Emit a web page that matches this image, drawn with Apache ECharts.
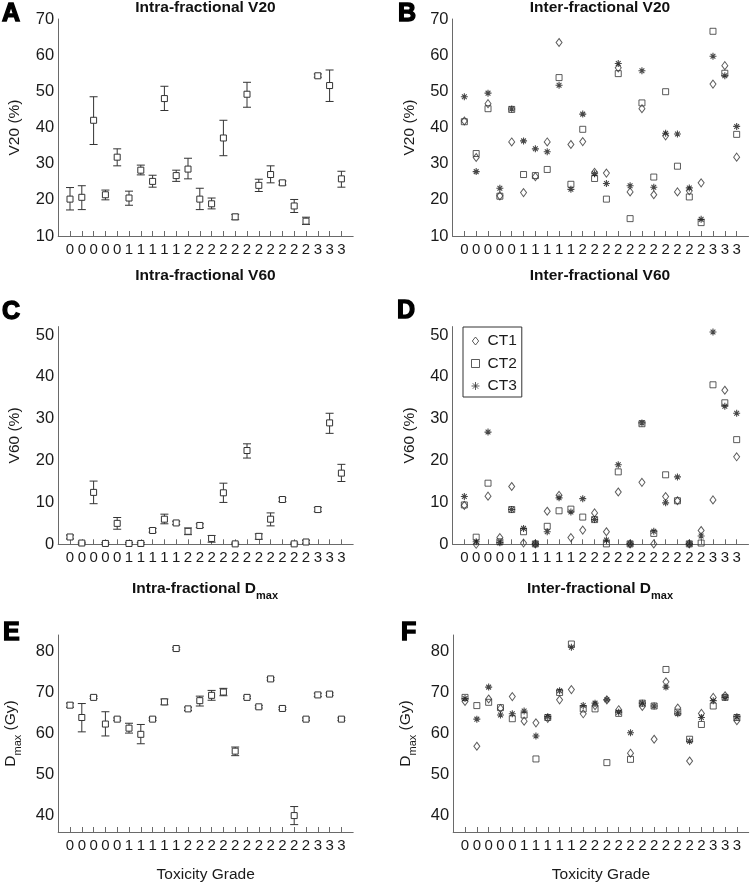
<!DOCTYPE html>
<html>
<head>
<meta charset="utf-8">
<script src="https://cdn.jsdelivr.net/npm/echarts@6/dist/echarts.min.js"></script>
<style>
html,body{margin:0;padding:0;background:#fff;}
#chart{width:750px;height:884px;}
</style>
</head>
<body>
<div id="chart"></div>
<script>
// ---------- data ----------
const grades = ['0','0','0','0','0','1','1','1','1','1','2','2','2','2','2','2','2','2','2','2','2','3','3','3'];

// A: Intra-fractional V20 (mean, upper, lower)
const intraV20Mean = [20.2,20.7,42.0,21.4,31.8,20.5,28.2,25.1,48.0,26.7,28.5,20.2,18.9,37.1,15.3,49.2,24.0,27.0,24.7,18.3,14.1,54.3,51.6,25.8];
const intraV20High = [23.4,23.9,48.5,22.7,34.1,22.4,29.6,26.8,51.4,28.2,31.5,23.2,20.5,42.0,16.0,52.5,25.7,29.4,25.2,20.1,15.2,54.8,55.9,27.9];
const intraV20Low  = [17.2,17.3,35.3,20.0,29.4,18.5,26.9,23.5,44.7,25.1,25.8,17.3,17.5,32.2,14.5,45.6,22.3,24.7,24.1,16.5,13.2,53.9,47.2,23.5];

// C: Intra-fractional V60
const intraV60Mean = [1.75,0.3,12.4,0.2,5.0,0.2,0.2,3.3,6.0,5.1,3.1,4.5,1.4,12.3,0.1,22.4,1.9,6.0,10.7,0.1,0.55,8.3,29.0,17.0];
const intraV60High = [2.2,0.5,15.1,0.4,6.4,0.4,0.4,3.8,7.2,5.5,3.9,4.9,2.1,14.6,0.3,24.0,2.5,7.5,11.1,0.3,0.95,8.8,31.3,19.1];
const intraV60Low  = [1.3,0.1,9.7,0.0,3.6,0.0,0.0,2.9,4.9,4.7,2.3,4.0,0.5,10.0,0.0,20.6,1.2,4.4,10.2,0.0,0.25,7.8,26.5,15.0];

// E: Intra-fractional Dmax
const intraDmaxMean = [66.9,63.9,68.8,62.3,63.5,61.3,59.8,63.5,67.7,80.7,66.0,68.0,69.3,70.1,55.7,68.8,66.5,73.3,66.1,40.0,63.5,69.4,69.6,63.5];
const intraDmaxHigh = [67.4,67.3,69.1,65.3,63.8,62.5,62.2,63.8,68.4,81.0,66.4,69.1,70.5,71.0,56.7,69.1,66.8,73.6,66.4,42.2,63.8,69.8,69.9,63.8];
const intraDmaxLow  = [66.4,60.4,68.5,59.4,63.2,60.1,57.5,63.2,67.0,80.4,65.6,66.7,68.1,69.2,54.6,68.5,66.2,73.0,65.8,37.8,63.2,69.0,69.3,63.2];

// B: Inter-fractional V20
const interV20CT1 = [41.8,31.7,46.6,21.1,36.0,22.0,26.4,36.0,63.5,35.3,36.1,27.6,27.4,56.5,22.2,45.2,21.4,37.7,22.2,22.5,24.7,52.0,57.1,31.8];
const interV20CT2 = [41.6,32.8,45.2,21.0,45.0,27.0,26.7,28.4,53.8,24.3,39.5,25.9,20.2,54.9,14.8,46.8,26.3,49.9,29.3,20.8,13.7,66.6,55.0,38.1];
const interV20CT3 = [48.5,27.8,49.5,23.2,45.1,36.3,34.1,33.3,51.7,22.9,43.7,27.2,24.5,57.7,23.9,55.7,23.5,38.4,38.2,23.3,14.6,59.7,54.3,40.3];

// D: Inter-fractional V60
const interV60CT1 = [9.3,0.0,11.5,1.6,13.8,0.3,0.1,7.9,11.7,1.6,3.4,7.5,3.0,12.5,0.1,14.8,0.1,11.4,10.4,0.1,3.3,10.6,36.8,20.9];
const interV60CT2 = [9.4,1.7,14.6,0.6,8.3,3.0,0.1,4.3,8.0,8.4,6.5,5.9,0.1,17.3,0.1,28.8,2.6,16.6,10.4,0.1,0.3,38.1,33.8,25.0];
const interV60CT3 = [11.4,0.6,26.8,0.4,8.3,3.8,0.1,3.0,11.1,7.7,10.9,5.9,1.0,19.0,0.1,29.0,3.1,9.9,16.1,0.1,2.0,50.7,33.0,31.3];

// F: Inter-fractional Dmax
const interDmaxCT1 = [67.8,56.9,68.4,66.1,69.0,63.0,62.6,63.7,68.2,70.7,64.8,66.8,68.2,65.8,55.2,66.6,58.6,72.6,66.2,53.3,64.9,68.8,69.2,63.1];
const interDmaxCT2 = [68.8,66.8,67.6,66.3,63.6,64.5,53.8,63.9,70.0,81.8,66.0,66.0,52.9,64.9,53.7,67.4,66.7,75.6,65.2,58.6,62.2,66.7,68.8,63.9];
const interDmaxCT3 = [68.5,63.5,71.3,64.5,64.8,65.5,59.4,64.1,70.4,81.0,66.8,67.4,68.2,65.2,60.2,67.4,66.7,71.3,64.8,58.1,63.9,68.0,68.8,64.1];

const v20Ticks = [10,20,30,40,50,60,70];
const v60Ticks = [0,10,20,30,40,50];
const dmaxTicks = [40,50,60,70,80];
const seriesNames = ['CT1','CT2','CT3'];

// ---------- styles ----------
const FONT = 'Liberation Sans, Arial, Helvetica, sans-serif';
const TXT = '#1a1a1a';
const AXC = '#6a6a6a';
const MK = '#333333';
const STAR = 'path://M0,5L10,5M5,0L5,10M1.6,1.6L8.4,8.4M8.4,1.6L1.6,8.4';
const DIAM_ICON = 'path://M4,0L8,5L4,10L0,5Z';
const SQ_ICON = 'path://M0,0L8,0L8,8L0,8Z';

const catPos = grades.map((g, i) => i + 1);

const grids = [
  {left: 58.2, top: 19, width: 295, height: 217},
  {left: 452.5, top: 19, width: 296, height: 217},
  {left: 58.2, top: 326.6, width: 295, height: 217.7},
  {left: 452.5, top: 326.6, width: 296, height: 217.7},
  {left: 58.2, top: 635, width: 295, height: 198.5},
  {left: 453.2, top: 635, width: 295.5, height: 198.5}
];

function xAxis(idx, withName) {
  return {
    gridIndex: idx, type: 'value', min: 0, max: 25,
    name: withName ? 'Toxicity Grade' : '',
    nameLocation: 'middle', nameGap: 35,
    nameTextStyle: {fontFamily: FONT, fontSize: 15.5, color: TXT},
    axisLine: {show: true, onZero: false, lineStyle: {color: AXC, width: 1}},
    axisTick: {show: true, inside: true, length: 5, customValues: catPos, lineStyle: {color: AXC}},
    axisLabel: {show: true, customValues: catPos, margin: 6, fontFamily: FONT, fontSize: 15, color: TXT,
      formatter: v => grades[Math.round(v) - 1]},
    splitLine: {show: false}
  };
}
function yAxis(idx, min, max, ticks, name, rich) {
  return {
    gridIndex: idx, type: 'value', min: min, max: max,
    name: name, nameLocation: 'middle', nameGap: 35, nameRotate: 90,
    nameTextStyle: {fontFamily: FONT, fontSize: 15.5, color: TXT, rich: rich},
    axisLine: {show: true, onZero: false, lineStyle: {color: AXC, width: 1}},
    axisTick: {show: false},
    axisLabel: {show: true, customValues: ticks, margin: 4, fontFamily: FONT, fontSize: 16.5, color: TXT},
    splitLine: {show: false}
  };
}

const dRich = {
  a: {fontFamily: FONT, fontSize: 15.5, color: TXT},
  s: {fontFamily: FONT, fontSize: 11, color: TXT, padding: [14, 0, 0, 0]}
};

function errSeries(idx, low, high) {
  return {
    type: 'custom', xAxisIndex: idx, yAxisIndex: idx, z: 2,
    encode: {x: 0, y: [1, 2]},
    data: catPos.map((x, i) => [x, low[i], high[i]]),
    renderItem: function (params, api) {
      const x = api.value(0);
      const pLo = api.coord([x, api.value(1)]);
      const pHi = api.coord([x, api.value(2)]);
      const hw = 4;
      const st = {stroke: '#333', lineWidth: 1};
      return {type: 'group', children: [
        {type: 'line', shape: {x1: pHi[0], y1: pHi[1], x2: pLo[0], y2: pLo[1]}, style: st},
        {type: 'line', shape: {x1: pHi[0] - hw, y1: pHi[1], x2: pHi[0] + hw, y2: pHi[1]}, style: st},
        {type: 'line', shape: {x1: pLo[0] - hw, y1: pLo[1], x2: pLo[0] + hw, y2: pLo[1]}, style: st}
      ]};
    }
  };
}
function meanSeries(idx, mean) {
  return {
    type: 'scatter', xAxisIndex: idx, yAxisIndex: idx, z: 3,
    symbol: 'rect', symbolSize: 6,
    itemStyle: {color: '#ffffff', borderColor: MK, borderWidth: 1, opacity: 1},
    data: catPos.map((x, i) => [x, mean[i]])
  };
}
function ctSeries(idx, ct1, ct2, ct3) {
  const base = {type: 'scatter', xAxisIndex: idx, yAxisIndex: idx};
  return [
    Object.assign({}, base, {name: seriesNames[0], symbol: 'diamond', symbolSize: [6, 8], z: 3,
      itemStyle: {color: 'rgba(0,0,0,0)', borderColor: MK, borderWidth: 1},
      data: catPos.map((x, i) => [x, ct1[i]])}),
    Object.assign({}, base, {name: seriesNames[1], symbol: 'rect', symbolSize: 6, z: 4,
      itemStyle: {color: 'rgba(0,0,0,0)', borderColor: MK, borderWidth: 1},
      data: catPos.map((x, i) => [x, ct2[i]])}),
    Object.assign({}, base, {name: seriesNames[2], symbol: STAR, symbolSize: 7, z: 5,
      itemStyle: {color: 'rgba(0,0,0,0)', borderColor: '#1a1a1a', borderWidth: 1.1},
      data: catPos.map((x, i) => [x, ct3[i]])})
  ];
}

function titleText(x, y, text) {
  return {type: 'text', x: x, y: y, silent: true,
    style: {text: text, fontFamily: FONT, fontSize: 15.5, fontWeight: 'bold', fill: '#111',
      align: 'center', verticalAlign: 'middle'}};
}
function subTitle(x, y, main) {
  return {type: 'text', x: x, y: y, silent: true,
    style: {text: '{m|' + main + '}{s|max}', align: 'center', verticalAlign: 'middle', fill: '#111',
      rich: {
        m: {fontFamily: FONT, fontSize: 15.5, fontWeight: 'bold', fill: '#111'},
        s: {fontFamily: FONT, fontSize: 11, fontWeight: 'bold', fill: '#111', padding: [14, 0, 0, 0]}
      }}};
}
function letter(x, y, t) {
  return {type: 'text', x: x, y: y, silent: true,
    style: {text: t, fontFamily: FONT, fontSize: 25, fontWeight: 'bold', fill: '#000',
      stroke: '#000', lineWidth: 1.4, align: 'left', verticalAlign: 'middle'}};
}

const option = {
  backgroundColor: '#ffffff',
  animation: false,
  grid: grids,
  xAxis: [xAxis(0, false), xAxis(1, false), xAxis(2, false), xAxis(3, false), xAxis(4, true), xAxis(5, true)],
  yAxis: [
    yAxis(0, 10, 70, v20Ticks, 'V20 (%)'),
    yAxis(1, 10, 70, v20Ticks, 'V20 (%)'),
    yAxis(2, 0, 52, v60Ticks, 'V60 (%)'),
    yAxis(3, 0, 52, v60Ticks, 'V60 (%)'),
    yAxis(4, 36, 84, dmaxTicks, '{a|D}{s|max}{a| (Gy)}', dRich),
    yAxis(5, 36, 84, dmaxTicks, '{a|D}{s|max}{a| (Gy)}', dRich)
  ],
  legend: {
    show: true, orient: 'vertical', left: 463, top: 327,
    data: [
      {name: 'CT1', icon: DIAM_ICON},
      {name: 'CT2', icon: SQ_ICON},
      {name: 'CT3', icon: STAR}
    ],
    itemWidth: 14, itemHeight: 8, itemGap: 6.5,
    padding: [6, 5, 3, 8],
    borderColor: '#333', borderWidth: 1, backgroundColor: '#fff',
    itemStyle: {color: 'rgba(0,0,0,0)', borderColor: '#333', borderWidth: 1},
    textStyle: {fontFamily: FONT, fontSize: 15.5, color: TXT, lineHeight: 14},
    selectedMode: false
  },
  graphic: [
    titleText(205.5, 8, 'Intra-fractional V20'),
    titleText(600, 8, 'Inter-fractional V20'),
    titleText(205.5, 276, 'Intra-fractional V60'),
    titleText(600, 276, 'Inter-fractional V60'),
    subTitle(205, 589, 'Intra-fractional D'),
    subTitle(600, 589, 'Inter-fractional D'),
    letter(2, 14.5, 'A'),
    letter(398, 14.5, 'B'),
    letter(2, 312.5, 'C'),
    letter(397, 311.5, 'D'),
    letter(3, 633.5, 'E'),
    letter(401, 633, 'F')
  ],
  series: [
    errSeries(0, intraV20Low, intraV20High), meanSeries(0, intraV20Mean),
    ...ctSeries(1, interV20CT1, interV20CT2, interV20CT3),
    errSeries(2, intraV60Low, intraV60High), meanSeries(2, intraV60Mean),
    ...ctSeries(3, interV60CT1, interV60CT2, interV60CT3),
    errSeries(4, intraDmaxLow, intraDmaxHigh), meanSeries(4, intraDmaxMean),
    ...ctSeries(5, interDmaxCT1, interDmaxCT2, interDmaxCT3)
  ]
};

const chart = echarts.init(document.getElementById('chart'), null, {renderer: 'canvas'});
chart.setOption(option);
</script>
</body>
</html>
